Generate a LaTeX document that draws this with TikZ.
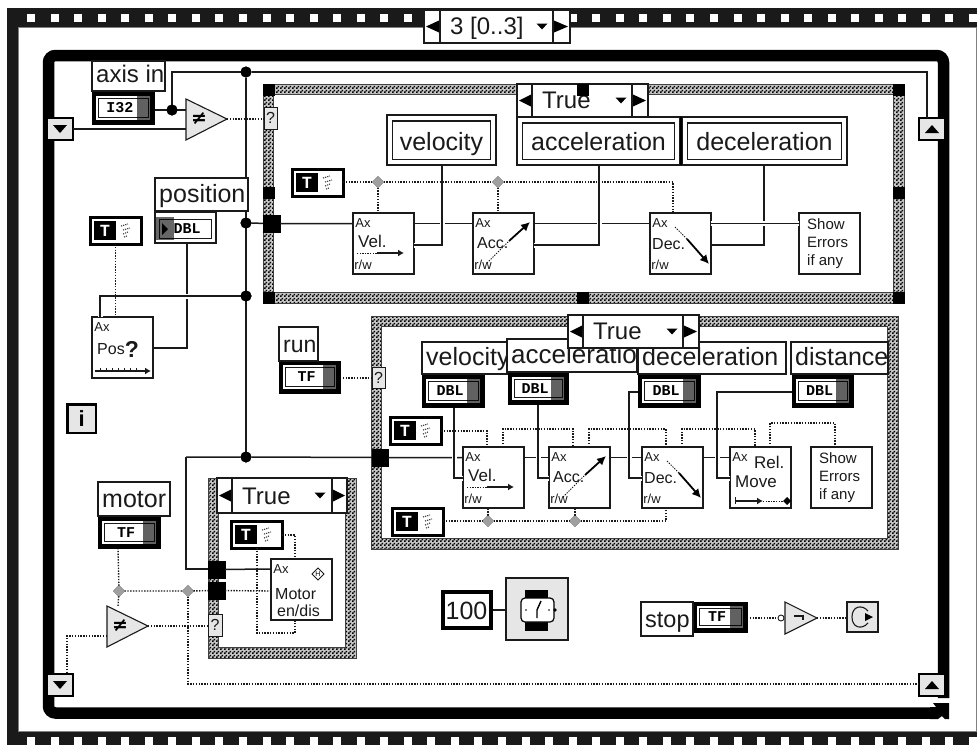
\documentclass[tikz,border=0pt]{standalone}
\usepackage{fontspec}
\setmainfont{Liberation Sans}
\newfontfamily\monob{Liberation Mono}[BoldFont={Liberation Mono Bold}]
\newfontfamily\dejavu{DejaVu Sans}
\usetikzlibrary{patterns,shapes.geometric,calc,arrows.meta}
\definecolor{ink}{HTML}{1A1A1A}
\definecolor{pane}{HTML}{E6E6E6}
\newcommand{\myfs}[1]{\fontsize{#1}{#1}\selectfont}
\pgfdeclarepatternformonly{dith}{\pgfqpoint{0pt}{0pt}}{\pgfqpoint{4pt}{4pt}}{\pgfqpoint{4pt}{4pt}}{%
  \pgfpathrectangle{\pgfqpoint{0pt}{0pt}}{\pgfqpoint{2pt}{2pt}}%
  \pgfpathrectangle{\pgfqpoint{2pt}{2pt}}{\pgfqpoint{2pt}{2pt}}%
  \pgfusepath{fill}}
\tikzset{
  boxbase/.style={inner sep=0pt,outer sep=0pt,draw=ink,line width=1pt,fill=white},
  lblb/.style={line width=1.2pt},
  wire/.style={draw=ink,line width=1.5pt},
  halo/.style={preaction={draw=white,line width=5pt}},
  bool/.style={draw=ink,line width=1.4pt,dash pattern=on 1.4pt off 1.4pt},
  junc/.style={circle,fill=black,inner sep=0pt,minimum size=11pt,outer sep=0pt},
  bjunc/.style={diamond,fill=gray!75,draw=gray!60!black,line width=.4pt,inner sep=0pt,minimum size=11pt,outer sep=0pt},
  tunnel/.style={fill=black,draw=black,line width=.4pt},
  qterm/.style={fill=pane,line width=1pt},
  vib/.style={line width=1.3pt},
  lbltxt/.style={font=\myfs{25},inner sep=0pt,anchor=base west,text=ink},
  vitxt/.style={font=\myfs{16},inner sep=0pt,text=ink},
  axt/.style={font=\myfs{13},inner sep=0pt,text=ink},
  reg/.style={fill=pane,draw=black,line width=2.2pt},
}
% rectangle node from two corners
\newcommand{\bx}[6][]{%
  \pgfmathsetmacro\mxa{(#3+#5)/2}\pgfmathsetmacro\mya{(#4+#6)/2}%
  \pgfmathsetmacro\wa{#5-#3}\pgfmathsetmacro\ha{#6-#4}%
  \node[boxbase,#1,minimum width=\wa pt,minimum height=\ha pt] (#2) at (\mxa,\mya) {};}
% text label, clipped to its box
\newcommand{\lbl}[6]{%
  \bx[lblb]{#1}{#2}{#3}{#4}{#5}%
  \begin{scope}\clip (#2,#3) rectangle (#4,#5);
  \node[lbltxt] (#1t) at (#2+4,#5-9) {#6};\end{scope}}
% double-framed free label
\newcommand{\dlbl}[6]{%
  \bx[lblb]{#1}{#2}{#3}{#4}{#5}%
  \draw[ink,line width=1.2pt] (#2+5.5,#3+6) rectangle (#4-5.5,#5-5.5);
  \node[font=\myfs{25},inner sep=0pt,text=ink,anchor=base] (#1t) at ({(#2+#4)/2},#5-15) {#6};}
% control terminal
\newcommand{\ctl}[6]{%
  \bx[fill=black,draw=black]{#1}{#2}{#3}{#4}{#5}%
  \fill[white] (#2+4,#3+4) rectangle (#4-4,#5-4);
  \draw[ink,line width=1pt] (#2+6.5,#3+6.5) rectangle (#4-6,#5-6.5);
  \node[font=\monob\bfseries\myfs{15},inner sep=0pt,text=black] (#1t) at ({(#2+#4)/2-3},{(#3+#5)/2}) {#6};
  \fill[black,opacity=.62] (#4-17,#3+3) rectangle (#4-1,#5-3);
  \fill[black] (#4-4,{(#3+#5)/2-3}) -- (#4,{(#3+#5)/2}) -- (#4-4,{(#3+#5)/2+3}) -- cycle;}
% boolean constant
\newcommand{\tconst}[3]{%
  \bx[fill=white,draw=black,line width=3pt]{#1}{#2+1.5}{#3+1.5}{#2+49.5}{#3+25.5}%
  \fill[black] (#2+4,#3+4) rectangle (#2+26,#3+23);
  \node[font=\monob\bfseries\myfs{17},text=white,inner sep=0pt] (#1t) at (#2+15,#3+13.5) {T};
  \draw[gray!50!black,line width=1.1pt,dash pattern=on 1.2pt off 1pt] (#2+31,#3+9) -- (#2+38,#3+7) (#2+33,#3+13) -- (#2+40,#3+11) (#2+33,#3+17) -- (#2+38,#3+15) (#2+34,#3+20) -- (#2+37,#3+19);}
% case selector
\newcommand{\sel}[9]{%
  \bx[line width=1.2pt]{#1}{#2}{#3}{#4}{#5}%
  \draw[ink,line width=1.2pt] (#6,#3) -- (#6,#5) (#7,#3) -- (#7,#5);
  \fill[black] (#2+2,{(#3+#5)/2}) -- (#6-1,{(#3+#5)/2-6}) -- (#6-1,{(#3+#5)/2+6}) -- cycle;
  \fill[black] (#4-2,{(#3+#5)/2}) -- (#7+1,{(#3+#5)/2-6}) -- (#7+1,{(#3+#5)/2+6}) -- cycle;
  \fill[black] (#9-5.5,{(#3+#5)/2-3}) -- (#9+5.5,{(#3+#5)/2-3}) -- (#9,{(#3+#5)/2+3}) -- cycle;
  \node[font=\myfs{24},inner sep=0pt,text=ink,anchor=base west] (#1t) at (#6+10,#5-8.5) {#8};}
% case frame
\newcommand{\caseframe}[4]{%
  \fill[white] (#1,#2) rectangle (#3,#4);
  \fill[gray!45,even odd rule] (#1,#2) rectangle (#3,#4) (#1+10.5,#2+10.5) rectangle (#3-10.5,#4-10.5);
  \fill[pattern=dith,pattern color=black,even odd rule] (#1,#2) rectangle (#3,#4) (#1+10.5,#2+10.5) rectangle (#3-10.5,#4-10.5);
  \draw[gray!50!black,line width=.8pt] (#1,#2) rectangle (#3,#4);
  \draw[gray!50!black,line width=.8pt] (#1+10.5,#2+10.5) rectangle (#3-10.5,#4-10.5);}
% shift registers
\newcommand{\regdown}[3]{\bx[reg]{#1}{#2}{#3}{#2+26}{#3+22}%
  \fill[black] (#2+6,#3+7) -- (#2+20,#3+7) -- (#2+13,#3+15) -- cycle;}
\newcommand{\regup}[3]{\bx[reg]{#1}{#2}{#3}{#2+26}{#3+22}%
  \fill[black] (#2+6,#3+15) -- (#2+20,#3+15) -- (#2+13,#3+7) -- cycle;}
% VI icons
\newcommand{\vi}[3]{\bx[vib]{#1}{#2}{#3}{#2+61}{#3+61}%
  \node[axt] (#1ax) at (#2+10,#3+10) {Ax};}
\newcommand{\rw}[3]{\node[axt] (#1rw) at (#2+10,#3+52) {r/w};}
\newcommand{\velicon}[3]{\vi{#1}{#2}{#3}\rw{#1}{#2}{#3}
  \node[vitxt,font=\myfs{17},anchor=west] (#1n) at (#2+5,#3+28) {Vel.};
  \draw[ink,line width=1pt,dash pattern=on 1.3pt off 1.3pt] (#2+4,#3+40) -- (#2+24,#3+40);
  \draw[ink,line width=1.5pt,-{Latex[length=6pt,width=7pt]}] (#2+24,#3+40) -- (#2+51,#3+40);}
\newcommand{\accicon}[3]{\vi{#1}{#2}{#3}\rw{#1}{#2}{#3}
  \node[vitxt,anchor=west] (#1n) at (#2+4,#3+30) {Acc.};
  \draw[ink,line width=1pt,dash pattern=on 1.3pt off 1.3pt] (#2+14,#3+50) -- (#2+36,#3+28);
  \draw[black,line width=1.8pt,-{Latex[length=9pt,width=9pt]}] (#2+36,#3+28) -- (#2+57,#3+9);}
\newcommand{\decicon}[3]{\vi{#1}{#2}{#3}\rw{#1}{#2}{#3}
  \node[vitxt,anchor=west] (#1n) at (#2+2,#3+31) {Dec.};
  \draw[ink,line width=1pt,dash pattern=on 1.3pt off 1.3pt] (#2+25,#3+14) -- (#2+37,#3+26);
  \draw[black,line width=1.8pt,-{Latex[length=9pt,width=9pt]}] (#2+37,#3+26) -- (#2+59,#3+51);}
\newcommand{\showicon}[3]{\bx[vib]{#1}{#2}{#3}{#2+61}{#3+61}%
  \node[font=\fontsize{15}{18}\selectfont,align=left,inner sep=0pt,text=ink,anchor=north west] (#1t) at (#2+8,#3+5.5) {Show\\Errors\\if any};}
\begin{document}
\begin{tikzpicture}[x=1pt,y=-1pt]
\useasboundingbox (0,0) rectangle (977,745);
\fill[white] (0,0) rectangle (977,745);
% film strip (sequence frame)
\fill[ink] (7,8) rectangle (977,27);
\fill[ink] (7,731) rectangle (977,745);
\fill[ink] (7,8) rectangle (18,745);
\draw[gray,line width=.8pt] (18,27) rectangle (976,731);
\foreach \i in {0,...,40}{
  \fill[white] ({27+23.55*\i},14) rectangle ({35+23.55*\i},22);
  \fill[white] ({27+23.55*\i},737) rectangle ({35+23.55*\i},745);}
% while loop
\draw[black,line width=11.5pt,rounded corners=7pt] (943.5,698) -- (943.5,55.5) -- (48.5,55.5) -- (48.5,713) -- (936,713);
\fill[black] (933,703) -- (949,703) -- (949,719) -- (945,719) -- (942,716) -- (938,719) -- (930,719) -- (930,707) -- (936,707) -- cycle;
% case frames
\caseframe{263}{84}{904}{303}
\caseframe{371}{316}{898}{549}
\caseframe{208}{478}{356}{658}
% named junctions
\node[junc] (j1) at (246,72) {};
\node[junc] (j2) at (246,223) {};
\node[junc] (j3) at (246,296) {};
\node[junc] (j4) at (246,457) {};
\node[junc] (jin) at (172,110) {};
\node[bjunc] (d1) at (378,182) {};
\node[bjunc] (d2) at (498,182) {};
\node[bjunc] (d3) at (119,591) {};
\node[bjunc] (d4) at (188,591) {};
\node[bjunc] (d5) at (488,521) {};
\node[bjunc] (d6) at (575,521) {};
% structures that the wires attach to
\velicon{v1}{353}{213}
\accicon{a1}{473}{213}
\decicon{e1}{650}{213}
\showicon{s1}{799}{213}
\vi{p1}{92}{317}
\node[vitxt,anchor=west] (p1n) at (92+5,317+32) {Pos};
\node[font=\bfseries\myfs{23},inner sep=0pt,text=ink] (p1q) at (92+40,317+32) {?};
\draw[ink,line width=1.2pt,-{Latex[length=6pt,width=7pt]}] (92+3,317+54) -- (92+59,317+54);
\foreach \k in {8,14,20,26,32,38,44}{\draw[ink,line width=.8pt] (92+\k,317+51) -- (92+\k,317+54);}
\velicon{v2}{463}{447}
\accicon{a2}{549}{447}
\decicon{e2}{642}{447}
\vi{r2}{730}{447}
\node[vitxt,font=\myfs{17},anchor=west] (r2a) at (730+24,447+15) {Rel.};
\node[vitxt,font=\myfs{17},anchor=west] (r2b) at (730+5,447+35) {Move};
\draw[ink,line width=1.4pt,-{Latex[length=6pt,width=7pt]}] (730+5,447+54) -- (730+33,447+54);
\draw[ink,line width=1pt] (730+5,447+50) -- (730+5,447+57);
\draw[ink,line width=1pt,dash pattern=on 1.3pt off 1.3pt] (730+33,447+54) -- (730+53,447+54);
\fill[black] (730+57,447+50) -- (730+61,447+54) -- (730+57,447+58) -- (730+53,447+54) -- cycle;
\showicon{s2}{811}{447}
\vi{m3}{271}{559}
\node[vitxt,anchor=west] (m3a) at (271+4,559+35) {Motor};
\node[vitxt,anchor=west] (m3b) at (271+6,559+52) {en/dis};
\node[diamond,draw=ink,line width=.9pt,inner sep=.6pt,font=\myfs{7}] (m3h) at (318,574) {H};
% boxes that the wires attach to
\bx[fill=black]{ti1}{92}{92}{154}{124}
\bx[fill=white]{tcmp}{155}{212}{216}{243}
\regdown{rl1}{47}{118}
\regup{rr1}{919}{118}
\regdown{rl2}{47}{674}
\regup{rr2}{919}{674}
\bx[tunnel]{tA}{263}{215}{280}{232}
\bx[tunnel]{tB}{372}{449}{388}{466}
\bx[tunnel]{tC}{208}{561}{225}{578}
\bx[tunnel]{tD}{208}{582}{225}{599}
\bx[qterm]{q1}{264}{107}{277}{129}
\bx[qterm]{q2}{372}{367}{385}{388}
\bx[qterm]{q3}{208}{614}{222}{636}
\tconst{tc1}{292}{169}
\tconst{tc2}{90}{217}
\tconst{tc3}{390}{417}
\tconst{tc4}{392}{508}
\tconst{tc5}{231}{521}
% comparison and not triangles
\draw[ink,fill=pane,line width=1.1pt] (186,99) -- (227,119) -- (186,140) -- cycle;
\coordinate (cmp1) at (227,119);
\draw[ink,fill=pane,line width=1.1pt] (107,606) -- (148,626) -- (107,647) -- cycle;
\coordinate (cmp2) at (148,626);
\draw[ink,fill=pane,line width=1.1pt] (785,602) -- (817,618) -- (785,634) -- cycle;
\coordinate (nt) at (817,618);
\node[circle,draw=ink,fill=white,line width=.9pt,inner sep=0pt,minimum size=6pt] (ntc) at (781,618) {};
\bx[fill=pane,line width=1.2pt]{lp}{847}{602}{878}{632}
\draw[ink,line width=1.1pt] (868,611) .. controls (862,604) and (852,606) .. (852,617) .. controls (852,628) and (862,630) .. (868,623);
\fill[black] (865,613) -- (873,617) -- (865,621) -- cycle;
% ---------- wires
\draw[wire] (j1) -- (j4);
\draw[wire] (jin) |- (j1);
\draw[wire] (j1) -- (927,72) -- (927,118);
\draw[wire] (rl1.east |- 0,129) -- (186,129);
\draw[wire] (ti1.east |- jin) -- (186,110);
\draw[wire] (j2) -- (tA) -- (v1.west |- tA);
\draw[wire] (v1.east |- tA) -- (a1.west |- tA);
\draw[wire] (a1.east |- tA) -- (e1.west |- tA);
\draw[wire,halo] (v1.east |- 0,245) -- (442,245) -- (442,165);
\draw[wire,halo] (a1.east |- 0,245) -- (599,245) -- (599,165);
\draw[wire] (e1.east |- 0,245) -- (764,245) -- (764,165);
\draw[wire,halo] (e1.east |- tA) -- (s1.west |- tA);
\draw[wire] (j4 -| 186,0) -- (j4) -- (tB) -- (v2.west |- tB);
\draw[wire] (v2.east |- tB) -- (a2.west |- tB);
\draw[wire] (a2.east |- tB) -- (e2.west |- tB);
\draw[wire] (e2.east |- tB) -- (r2.west |- tB);
\draw[wire,halo] (454,407) -- (454,478) -- (v2.west |- 0,478);
\draw[wire,halo] (538,404) -- (538,478) -- (a2.west |- 0,478);
\draw[wire,halo] (639,392) -- (629,392) -- (629,478) -- (e2.west |- 0,478);
\draw[wire,halo] (792,392) -- (717,392) -- (717,478) -- (r2.west |- 0,478);
\draw[wire] (j4 -| 186,0) -- (186,569) -- (tC.west |- 0,569);
\draw[wire] (tC) -- (m3.west |- 0,569);
\draw[wire] (187,243) -- (187,348) -- (p1.east |- 0,348);
\draw[wire,halo] (j3) -- (100,296) -- (100,317);
% boolean wires
\draw[bool] (cmp1) -- (q1.west |- cmp1);
\draw[bool] (tc1.east |- d1) -- (d1) -- (d2) -- (673,182) -- (673,213);
\draw[bool] (d1) -- (d1 |- v1.north);
\draw[bool] (d2) -- (d2 |- a1.north);
\draw[bool] (tc2.south) -- (tc2.south |- p1.north);
\draw[bool] (340,378) -- (q2.west |- 0,378);
\draw[bool] (tc3.east |- 0,431) -- (487,431) -- (487,447);
\draw[bool] (503,447) -- (503,429) -- (573,429) -- (573,447);
\draw[bool] (589,447) -- (589,429) -- (666,429) -- (666,447);
\draw[bool] (682,447) -- (682,429) -- (755,429) -- (755,447);
\draw[bool] (770,447) -- (770,423) -- (835,423) -- (835,447);
\draw[bool] (tc4.east |- d5) -- (d5) -- (d6) -- (666,521) -- (666,508);
\draw[bool] (d5) -- (d5 |- v2.south);
\draw[bool] (d6) -- (d6 |- a2.south);
\draw[bool] (118,548) -- (d3) -- (118,606);
\draw[bool] (d3) -- (d4) -- (tD) -- (m3.west |- d4);
\draw[bool] (cmp2) -- (q3.west |- cmp2);
\draw[bool] (107,636) -- (67,636) -- (67,674);
\draw[bool] (d4) -- (188,684) -- (rr2.west |- 0,684);
\draw[bool] (tc5.east |- 0,535) -- (295,535) -- (295,559);
\draw[bool] (257,548) -- (257,633) -- (295,633) -- (295,620);
\draw[bool] (747,618) -- (ntc);
\draw[bool] (nt) -- (lp.west |- nt);
\draw[wire] (492,610) -- (506,610);
% redraw junctions over wires
\foreach \n/\x/\y in {j1/246/72,j2/246/223,j3/246/296,j4/246/457,jin/172/110}{\fill[black] (\x,\y) circle (5.5pt);}
\foreach \x/\y in {378/182,498/182,119/591,188/591,488/521,575/521}{\fill[gray!75] (\x-5.5,\y) -- (\x,\y-5.5) -- (\x+5.5,\y) -- (\x,\y+5.5) -- cycle;}
% labels and controls
\ctl{I}{92}{92}{154}{124}{I32}
\lbl{laxis}{92}{61}{165}{91}{\myfs{24}axis in}
\fill[white] (155,212) rectangle (216,243);
\draw[ink,line width=1.2pt] (155,212) rectangle (216,243);
\draw[ink,line width=1pt] (159,219) rectangle (211,238);
\node[font=\monob\bfseries\myfs{15},inner sep=0pt,text=black] (dblp) at (187,229) {DBL};
\fill[black,opacity=.6] (156,217) rectangle (174,240);
\fill[black] (162,223) -- (168,229) -- (162,235) -- cycle;
\lbl{lpos}{155}{178}{248}{211}{position}
\ctl{TFrun}{279}{361}{340}{393}{TF}
\lbl{lrun}{279}{327}{318}{361}{\myfs{23}run}
\ctl{TFm}{98}{517}{160}{548}{TF}
\lbl{lmot}{98}{482}{170}{516}{motor}
\ctl{TFs}{693}{602}{747}{632}{TF}
\lbl{lstop}{641}{602}{693}{636}{\myfs{23.5}stop}
\ctl{D1}{422}{375}{484}{407}{DBL}
\ctl{D2}{508}{373}{568}{404}{DBL}
\ctl{D3}{638}{375}{700}{407}{DBL}
\ctl{D4}{792}{375}{853}{407}{DBL}
\lbl{lv}{422}{342}{507}{374}{velocity}
\lbl{la}{507}{339}{637}{372}{\myfs{26}acceleration}
\lbl{ld}{638}{342}{786}{374}{deceleration}
\lbl{lds}{791}{342}{888}{374}{distance}
\dlbl{tv}{387}{115}{496}{165}{velocity}
\dlbl{ta}{517}{117}{680}{165}{acceleration}
\dlbl{td}{682}{117}{847}{165}{deceleration}
\draw[black,line width=2pt] (681,117) -- (681,165);
% selectors
\sel{sm}{424}{10}{570}{43}{440}{553}{3 [0..3]}{542}
\sel{s1x}{517}{84}{648}{117}{532}{632}{True}{621}
\sel{s2x}{568}{315}{699}{348}{583}{683}{True}{672}
\sel{s3x}{217}{478}{347}{513}{232}{332}{True}{320}
% case terminals
\foreach \a/\b in {263/84,577/84,893/84,263/187,893/187,263/292,577/292,893/292}{
  \fill[black] (\a,\b) rectangle (\a+11.5,\b+11.5);}
\fill[black] (263,215) rectangle (280,232);
\fill[black] (372,449) rectangle (388,466);
\fill[black] (208,561) rectangle (225,578);
\fill[black] (208,582) rectangle (225,599);
% ? glyphs
\node[font=\myfs{16},text=ink,inner sep=0pt] (q1t) at (q1) {?};
\node[font=\myfs{16},text=ink,inner sep=0pt] (q2t) at (q2) {?};
\node[font=\myfs{16},text=ink,inner sep=0pt] (q3t) at (q3) {?};
% not-equal marks
\node[font=\dejavu\bfseries\myfs{19},text=black,inner sep=0pt] (ne1) at (199,119) {≠};
\node[font=\dejavu\bfseries\myfs{19},text=black,inner sep=0pt] (ne2) at (120,626) {≠};
\draw[ink,line width=1.3pt] (794,616) -- (803,616) -- (803,620);
% iteration terminal
\bx[fill=pane,draw=black,line width=2.8pt]{it}{67.5}{404.5}{96}{433}
\node[font=\bfseries\myfs{22},text=black,inner sep=0pt] (itt) at (it) {i};
% timer
\bx[line width=3.5pt,draw=black]{c100}{443}{592}{491}{628}
\node[font=\myfs{25},text=ink,inner sep=0pt,anchor=base] (c100t) at (466.5,619) {100};
\bx[fill=pane,line width=1.2pt]{wt}{506}{578}{568}{640}
\fill[black] (525,590) rectangle (548,631);
\draw[black,fill=white,line width=1.2pt,rounded corners=4pt] (521,598) rectangle (554,622);
\draw[black,line width=1.4pt] (537,610) -- (541,601) (537,610) -- (537,618);
\fill[black] (526,610) circle (.9pt) (549,610) circle (.9pt) (555,610) circle (1.8pt);
\end{tikzpicture}
\end{document}
